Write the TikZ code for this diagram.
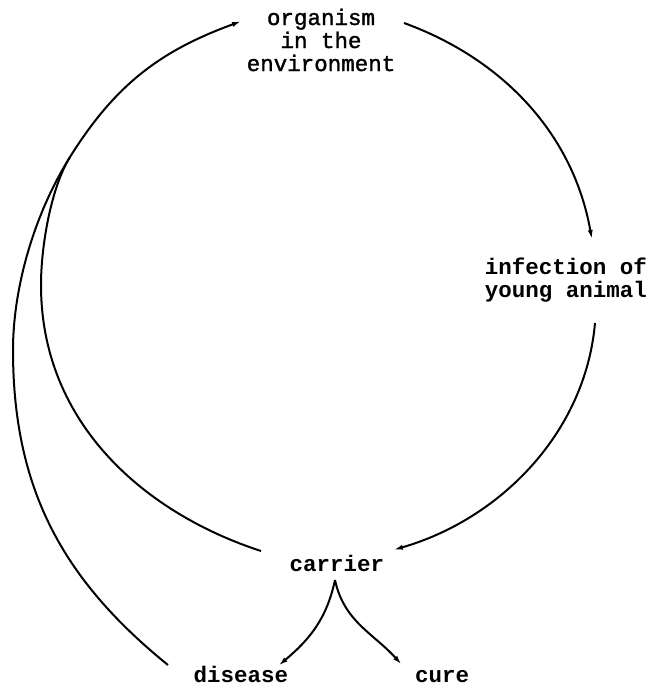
\documentclass[tikz,border=0pt]{standalone}
\usepackage{fontspec}
\setmainfont{Liberation Mono}
\newfontfamily\medmono[FakeBold=1.5]{Liberation Mono}
\usetikzlibrary{arrows.meta}
\begin{document}
\begin{tikzpicture}[x=1pt,y=1pt,
  lbl/.style={inner sep=0pt,align=center,font=\fontsize{22.5}{23}\selectfont\medmono},
  blbl/.style={inner sep=0pt,align=center,font=\fontsize{22.5}{23}\selectfont\bfseries},
  conn/.style={line width=2pt,-{Latex[length=10pt,width=5pt]}},
  plain/.style={line width=2pt}]
\useasboundingbox (0,0) rectangle (650,687);
% nodes
\node[lbl] (org) at (321,647) {organism\\in the\\environment};
\node[blbl] (inf) at (566,407) {infection of\\young animal};
\node[blbl] (car) at (337,124) {carrier};
\node[blbl,anchor=base] (dis) at (241,5) {disease};
\node[blbl,anchor=base] (cur) at (442,5) {cure};
% connector end points
\coordinate (a1s) at (404,664);
\coordinate (a1e) at (592,447);
\coordinate (a2s) at (595,364);
\coordinate (a2e) at (393,137);
\coordinate (a3s) at (261,136);
\coordinate (a3l) at (41,402);
\coordinate (mrg) at (70,530);
\coordinate (a3e) at (242,666);
\coordinate (o1s) at (168,22);
\coordinate (o1l) at (13,337);
\coordinate (cts) at (335,107);
\coordinate (dte) at (278,21);
\coordinate (cte) at (402,22);
% organism -> infection
\draw[conn] (a1s) to[out=-20,in=100,looseness=0.95] (a1e);
% infection -> carrier
\draw[conn] (a2s) to[out=-95,in=16,looseness=0.93] (a2e);
% carrier -> organism (inner arc)
\draw[conn] (a3s) to[out=162,in=-90,out distance=120,in distance=140] (a3l)
  to[out=90,in=238,out distance=40,in distance=35] (mrg)
  to[out=58,in=200,out distance=86,in distance=86] (a3e);
% disease -> (joins arc)
\draw[plain] (o1s) to[out=141,in=-90] (o1l)
  to[out=90,in=238,out distance=60,in distance=70] (mrg);
% carrier -> disease / cure
\draw[conn] (cts) to[out=-102,in=40] (dte);
\draw[conn] (cts) to[out=-78,in=132] (cte);
\end{tikzpicture}
\end{document}
